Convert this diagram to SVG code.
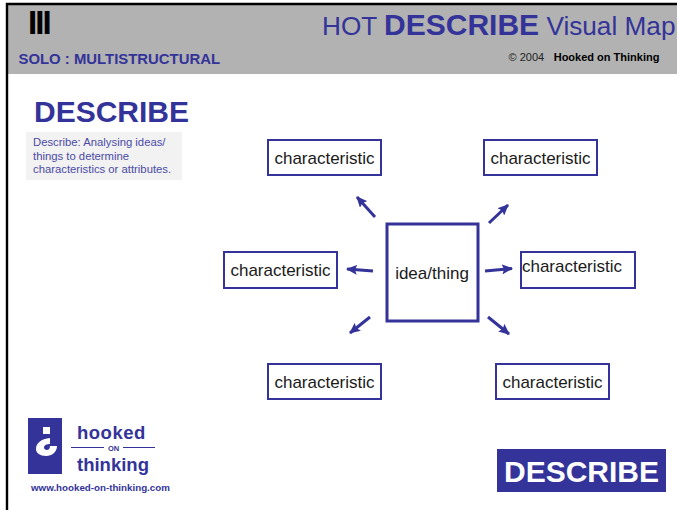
<svg xmlns="http://www.w3.org/2000/svg" width="677" height="510" viewBox="0 0 677 510">
<style>
text{font-family:"Liberation Sans",Arial,sans-serif}
.b{font-weight:bold}
.blue{fill:#333399}
.box{fill:#fff;stroke:#333399;stroke-width:2}
.c{font-size:17px;fill:#1a1a1a;text-anchor:middle}
.arr{stroke:#333399;stroke-width:3;fill:none;marker-end:url(#ah)}
</style>
<defs>
<marker id="ah" markerUnits="userSpaceOnUse" markerWidth="12" markerHeight="10" refX="10" refY="5" orient="auto">
<path d="M0 0L11 5L0 10L2 5Z" fill="#333399"/>
</marker>
</defs>
<rect width="677" height="510" fill="#fff"/>
<g id="header">
<rect x="7" y="4" width="670" height="70" fill="#b2b2b2"/>
<path d="M677 4H7V510" fill="none" stroke="#000" stroke-width="2.4"/>
<text x="28" y="34" font-size="33" class="b" letter-spacing="-1.9">III</text>
<text x="18.500" y="63.500" font-size="14.900" class="b blue">SOLO : MULTISTRUCTURAL</text>
<text x="322" y="35" font-size="26.200" class="blue">HOT <tspan class="b" font-size="30">DESCRIBE</tspan> Visual Map</text>
<text x="508.500" y="61" font-size="11" fill="#222">© 2004 <tspan class="b" dx="6.500" fill="#000">Hooked on Thinking</tspan></text>
</g>
<g id="definition">
<text x="34" y="122" font-size="30" class="b blue">DESCRIBE</text>
<rect x="26" y="132" width="156" height="48" fill="#f2f2f2"/>
<text font-size="11.300" fill="#4a4aa6"><tspan x="33" y="146">Describe: Analysing ideas/</tspan><tspan x="33" y="160">things to determine</tspan><tspan x="33" y="173">characteristics or attributes.</tspan></text>
</g>
<g id="connectors">
<path class="arr" d="M375 217L357 197"/>
<path class="arr" d="M489 223L508 205"/>
<path class="arr" d="M373 271L347 269"/>
<path class="arr" d="M485 271L512 268.500"/>
<path class="arr" d="M370 317L350 333"/>
<path class="arr" d="M488 317L509 334"/>
</g>
<g id="center"><rect class="box" x="387" y="224" width="91" height="97" style="stroke-width:3"/><text class="c" x="432" y="279">idea/thing</text></g>
<g id="n1"><rect class="box" x="268" y="140" width="113" height="35"/><text class="c" x="324.500" y="164">characteristic</text></g>
<g id="n2"><rect class="box" x="484" y="140" width="113" height="35"/><text class="c" x="540.500" y="164">characteristic</text></g>
<g id="n3"><rect class="box" x="224" y="252" width="113" height="36"/><text class="c" x="280.500" y="276">characteristic</text></g>
<g id="n4"><rect class="box" x="521" y="252" width="114" height="36"/><text class="c" x="572" y="272">characteristic</text></g>
<g id="n5"><rect class="box" x="268" y="364" width="113" height="35"/><text class="c" x="324.500" y="388">characteristic</text></g>
<g id="n6"><rect class="box" x="496" y="364" width="113" height="35"/><text class="c" x="552.500" y="388">characteristic</text></g>
<g id="logo">
<rect x="28" y="418" width="34" height="56" fill="#333399"/>
<rect x="43" y="427" width="7" height="7" fill="#fff"/>
<path d="M50 438C41 439 36 443 36 449C36 453 40 456 46 456C52 456 57 452 57 446L50 446C50 449 48 450 47 450C45 450 44 449 44 447.500C44 445 47 444 50 444Z" fill="#fff"/>
<path d="M71 447.500H104M123 447.500H155" stroke="#333399" stroke-width="1.200"/>
<text x="77" y="439" font-size="18.500" class="b blue" letter-spacing=".5">hooked</text>
<text x="113.500" y="450.500" font-size="7.500" class="b blue" text-anchor="middle">ON</text>
<text x="77" y="471" font-size="18.500" class="b blue">thinking</text>
<text x="31" y="491" font-size="9.750" class="b blue">www.hooked-on-thinking.com</text>
</g>
<g id="badge">
<rect x="497" y="449" width="169" height="43" fill="#333399"/>
<text x="581.500" y="482" font-size="30" class="b" fill="#fff" text-anchor="middle">DESCRIBE</text>
</g>
</svg>
